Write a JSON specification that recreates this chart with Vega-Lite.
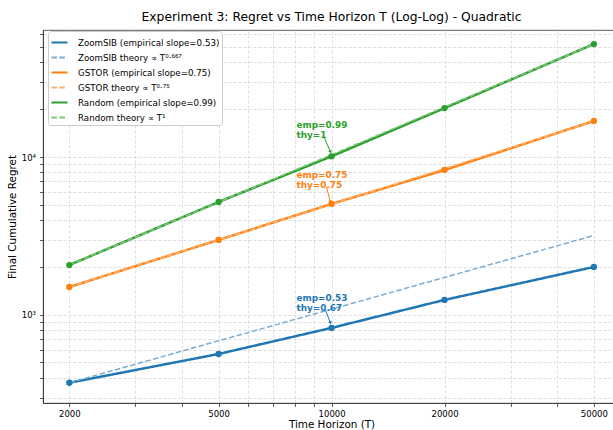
{
  "$schema": "https://vega.github.io/schema/vega-lite/v6.json",
  "width": 577,
  "height": 373,
  "autosize": "none",
  "padding": {"left": 43, "top": 30, "right": 0, "bottom": 27},
  "title": {"text": "Experiment 3: Regret vs Time Horizon T (Log-Log) - Quadratic", "fontSize": 12.3, "fontWeight": "normal", "offset": 7, "anchor": "middle", "font": "DejaVu Sans", "color": "#000"},
  "config": {
    "font": "DejaVu Sans",
    "view": {"stroke": "#333", "strokeWidth": 0.8},
    "axis": {"labelFont": "DejaVu Sans", "labelFontSize": 8.5, "labelColor": "#000", "titleFont": "DejaVu Sans", "titleFontSize": 10.4, "titleFontWeight": "normal", "titleColor": "#000", "domainColor": "#333", "domainWidth": 0.8, "tickColor": "#333", "tickWidth": 0.8, "tickSize": 3.5, "labelPadding": 3, "gridColor": "#d0d0d0", "gridDash": [3, 2], "gridWidth": 0.7}
  },
  "datasets": {
    "main": [
      {"series": "ZoomSIB (empirical slope=0.53)", "kind": "emp", "T": 2000, "regret": 372},
      {"series": "ZoomSIB (empirical slope=0.53)", "kind": "emp", "T": 5000, "regret": 566},
      {"series": "ZoomSIB (empirical slope=0.53)", "kind": "emp", "T": 10000, "regret": 828},
      {"series": "ZoomSIB (empirical slope=0.53)", "kind": "emp", "T": 20000, "regret": 1245},
      {"series": "ZoomSIB (empirical slope=0.53)", "kind": "emp", "T": 50000, "regret": 2013},
      {"series": "ZoomSIB theory ∝ T⁰·⁶⁶⁷", "kind": "theory", "T": 2000, "regret": 372},
      {"series": "ZoomSIB theory ∝ T⁰·⁶⁶⁷", "kind": "theory", "T": 5000, "regret": 686},
      {"series": "ZoomSIB theory ∝ T⁰·⁶⁶⁷", "kind": "theory", "T": 10000, "regret": 1088},
      {"series": "ZoomSIB theory ∝ T⁰·⁶⁶⁷", "kind": "theory", "T": 20000, "regret": 1728},
      {"series": "ZoomSIB theory ∝ T⁰·⁶⁶⁷", "kind": "theory", "T": 50000, "regret": 3185},
      {"series": "GSTOR (empirical slope=0.75)", "kind": "emp", "T": 2000, "regret": 1503},
      {"series": "GSTOR (empirical slope=0.75)", "kind": "emp", "T": 5000, "regret": 2985},
      {"series": "GSTOR (empirical slope=0.75)", "kind": "emp", "T": 10000, "regret": 5045},
      {"series": "GSTOR (empirical slope=0.75)", "kind": "emp", "T": 20000, "regret": 8275},
      {"series": "GSTOR (empirical slope=0.75)", "kind": "emp", "T": 50000, "regret": 16900},
      {"series": "GSTOR theory ∝ T⁰·⁷⁵", "kind": "theory", "T": 2000, "regret": 1503},
      {"series": "GSTOR theory ∝ T⁰·⁷⁵", "kind": "theory", "T": 5000, "regret": 2988},
      {"series": "GSTOR theory ∝ T⁰·⁷⁵", "kind": "theory", "T": 10000, "regret": 5026},
      {"series": "GSTOR theory ∝ T⁰·⁷⁵", "kind": "theory", "T": 20000, "regret": 8452},
      {"series": "GSTOR theory ∝ T⁰·⁷⁵", "kind": "theory", "T": 50000, "regret": 16800},
      {"series": "Random (empirical slope=0.99)", "kind": "emp", "T": 2000, "regret": 2070},
      {"series": "Random (empirical slope=0.99)", "kind": "emp", "T": 5000, "regret": 5190},
      {"series": "Random (empirical slope=0.99)", "kind": "emp", "T": 10000, "regret": 10100},
      {"series": "Random (empirical slope=0.99)", "kind": "emp", "T": 20000, "regret": 20400},
      {"series": "Random (empirical slope=0.99)", "kind": "emp", "T": 50000, "regret": 51900},
      {"series": "Random theory ∝ T¹", "kind": "theory", "T": 2000, "regret": 2070},
      {"series": "Random theory ∝ T¹", "kind": "theory", "T": 5000, "regret": 5175},
      {"series": "Random theory ∝ T¹", "kind": "theory", "T": 10000, "regret": 10350},
      {"series": "Random theory ∝ T¹", "kind": "theory", "T": 20000, "regret": 20700},
      {"series": "Random theory ∝ T¹", "kind": "theory", "T": 50000, "regret": 51750}
    ],
    "notes": [
      {"series": "Random (empirical slope=0.99)", "label": "emp=0.99\nthy=1", "T": 8060, "regret": 15830, "T2": 9572, "regret2": 13190, "T3": 9931, "regret3": 10760},
      {"series": "GSTOR (empirical slope=0.75)", "label": "emp=0.75\nthy=0.75", "T": 8060, "regret": 7692, "T2": 9690, "regret2": 6459, "T3": 9931, "regret3": 5190},
      {"series": "ZoomSIB (empirical slope=0.53)", "label": "emp=0.53\nthy=0.67", "T": 8060, "regret": 1281, "T2": 9632, "regret2": 1076, "T3": 9931, "regret3": 890}
    ]
  },
  "layer": [
    {
      "data": {"name": "main"},
      "transform": [{"filter": "datum.kind == 'emp'"}],
      "mark": {"type": "line", "strokeWidth": 2.5},
      "encoding": {
        "x": {"field": "T", "type": "quantitative", "title": "Time Horizon (T)",
          "scale": {"type": "log", "domain": [1702, 58700], "nice": false},
          "axis": {"values": [2000, 3000, 4000, 5000, 6000, 7000, 8000, 9000, 10000, 20000, 30000, 40000, 50000],
            "labelExpr": "indexof([2000,5000,10000,20000,50000], datum.value) >= 0 ? format(datum.value, 'd') : ''",
            "grid": true, "titlePadding": 1, "labelFlush": false, "labelOverlap": false}},
        "y": {"field": "regret", "type": "quantitative", "title": "Final Cumulative Regret",
          "scale": {"type": "log", "domain": [277, 63700], "nice": false},
          "axis": {"values": [300, 400, 500, 600, 700, 800, 900, 1000, 2000, 3000, 4000, 5000, 6000, 7000, 8000, 9000, 10000, 20000, 30000, 40000, 50000, 60000],
            "labelExpr": "datum.value == 1000 ? '10³' : (datum.value == 10000 ? '10⁴' : '')",
            "grid": true, "titlePadding": 4, "labelPadding": 4, "labelOverlap": false, "labelFlush": false}},
        "color": {"field": "series", "type": "nominal",
          "scale": {"domain": ["ZoomSIB (empirical slope=0.53)", "ZoomSIB theory ∝ T⁰·⁶⁶⁷", "GSTOR (empirical slope=0.75)", "GSTOR theory ∝ T⁰·⁷⁵", "Random (empirical slope=0.99)", "Random theory ∝ T¹"],
            "range": ["#1f77b4", "#79add2", "#ff7f0e", "#ffb26e", "#2ca02c", "#80c680"]},
          "legend": {"title": null, "orient": "none", "legendX": 5, "legendY": 1, "padding": 2, "fillColor": "#ffffff", "strokeColor": "#cccccc", "cornerRadius": 3,
            "labelFont": "DejaVu Sans", "labelFontSize": 8.7, "labelColor": "#000", "labelLimit": 400,
            "symbolType": "stroke", "symbolSize": 256, "symbolStrokeWidth": 2.2, "rowPadding": -4, "labelOffset": 9}},
        "strokeDash": {"field": "series", "type": "nominal",
          "scale": {"domain": ["ZoomSIB (empirical slope=0.53)", "ZoomSIB theory ∝ T⁰·⁶⁶⁷", "GSTOR (empirical slope=0.75)", "GSTOR theory ∝ T⁰·⁷⁵", "Random (empirical slope=0.99)", "Random theory ∝ T¹"],
            "range": [[1, 0], [5.5, 2.4], [1, 0], [5.5, 2.4], [1, 0], [5.5, 2.4]]}}
      }
    },
    {
      "data": {"name": "main"},
      "transform": [{"filter": "datum.kind == 'theory'"}],
      "mark": {"type": "line", "strokeWidth": 1.5},
      "encoding": {
        "x": {"field": "T", "type": "quantitative"},
        "y": {"field": "regret", "type": "quantitative"},
        "color": {"field": "series", "type": "nominal"},
        "strokeDash": {"field": "series", "type": "nominal"}
      }
    },
    {
      "data": {"name": "main"},
      "transform": [{"filter": "datum.kind == 'emp'"}],
      "mark": {"type": "point", "filled": true, "shape": "circle", "size": 40, "opacity": 1},
      "encoding": {
        "x": {"field": "T", "type": "quantitative"},
        "y": {"field": "regret", "type": "quantitative"},
        "color": {"field": "series", "type": "nominal"}
      }
    },
    {
      "data": {"name": "notes"},
      "mark": {"type": "text", "align": "left", "baseline": "middle", "lineBreak": "\n", "lineHeight": 10, "fontSize": 8.9, "fontWeight": "bold", "font": "DejaVu Sans"},
      "encoding": {
        "x": {"field": "T", "type": "quantitative"},
        "y": {"field": "regret", "type": "quantitative"},
        "text": {"field": "label"},
        "color": {"field": "series", "type": "nominal"}
      }
    },
    {
      "data": {"name": "notes"},
      "mark": {"type": "rule", "strokeWidth": 1},
      "encoding": {
        "x": {"field": "T2", "type": "quantitative"},
        "y": {"field": "regret2", "type": "quantitative"},
        "x2": {"field": "T3"},
        "y2": {"field": "regret3"},
        "color": {"field": "series", "type": "nominal"}
      }
    },
    {
      "data": {"name": "notes"},
      "mark": {"type": "point", "shape": "triangle-down", "filled": true, "size": 14, "angle": 340, "opacity": 1},
      "encoding": {
        "x": {"field": "T3", "type": "quantitative"},
        "y": {"field": "regret3", "type": "quantitative"},
        "color": {"field": "series", "type": "nominal"}
      }
    }
  ]
}
